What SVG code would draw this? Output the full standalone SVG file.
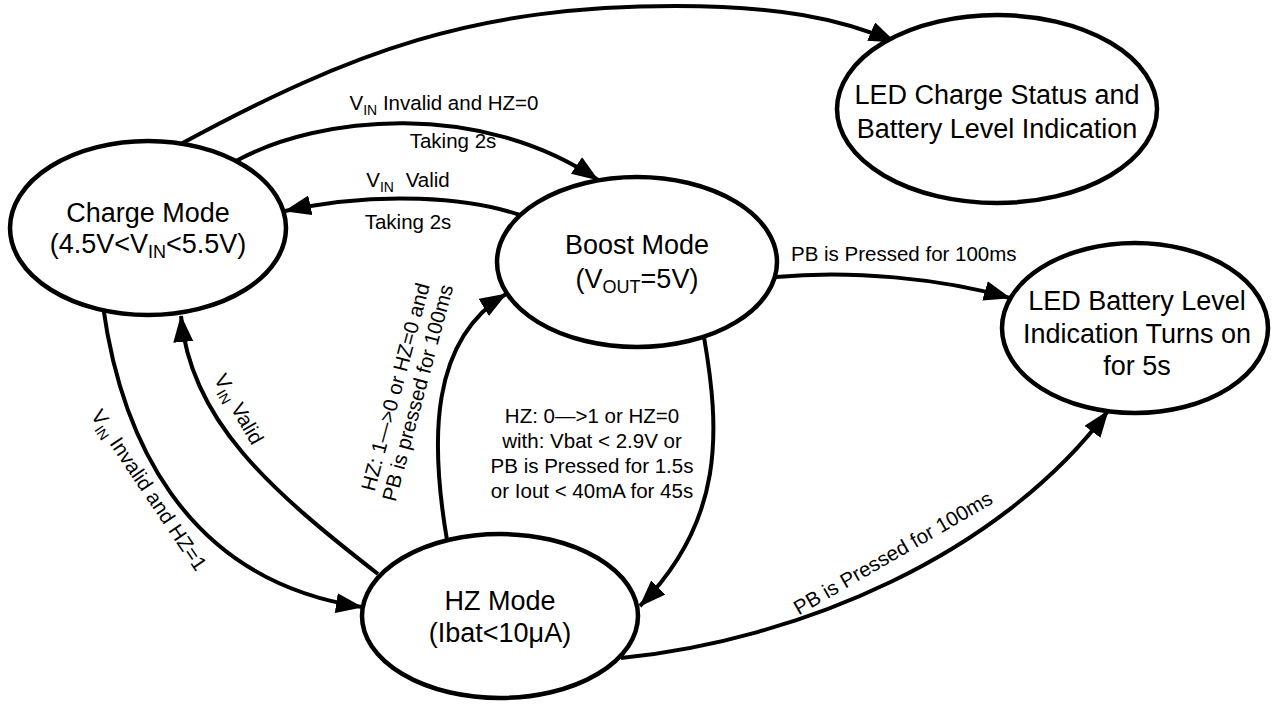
<svg xmlns="http://www.w3.org/2000/svg" width="1279" height="704" viewBox="0 0 1279 704">
<style>
.node ellipse { fill: #fff; stroke: #000; stroke-width: 4.5; }
.node text { font-family: "Liberation Sans", Arial, sans-serif; font-size: 27px; text-anchor: middle; fill: #000; }
.edge { fill: none; stroke: #000; stroke-width: 4; marker-end: url(#arr); }
.lbl { font-family: "Liberation Sans", Arial, sans-serif; font-size: 20.5px; fill: #000; }
.mid { text-anchor: middle; }
.sub { font-size: 14px; }
.nsub { font-size: 18px; }
</style>
<defs>
<marker id="arr" markerUnits="userSpaceOnUse" markerWidth="28" markerHeight="22" refX="26" refY="10" orient="auto">
<path d="M0,0 L27,10 L0,20 z" fill="#000"/>
</marker>
</defs>
<rect width="1279" height="704" fill="#fff"/>

<g id="connectors">
<path class="edge" d="M179,145 C354,50 476,6 676,6 C776,6 840,18 895,42"/>
<path class="edge" d="M236,161 C320,115 480,100 598,180"/>
<path class="edge" d="M520,215 C470,198 380,190 285,211"/>
<path class="edge" d="M776,277 C850,270 940,278 1010,298"/>
<path class="edge" d="M103,306 C120,430 180,580 362,607"/>
<path class="edge" d="M378,574 C270,490 190,420 181,316"/>
<path class="edge" d="M447,540 C430,440 430,340 506,294"/>
<path class="edge" d="M704,337 C720,430 725,520 640,606"/>
<path class="edge" d="M621,658 C800,640 1000,555 1108,411"/>
</g>

<g id="edge-labels">
<text class="lbl mid" x="444" y="110">V<tspan class="sub" dy="5">IN</tspan><tspan dy="-5"> Invalid and HZ=0</tspan></text>
<text class="lbl mid" x="453" y="148">Taking 2s</text>
<text class="lbl mid" x="408" y="187">V<tspan class="sub" dy="5">IN</tspan><tspan dy="-5" dx="6"> Valid</tspan></text>
<text class="lbl mid" x="408" y="229">Taking 2s</text>
<text class="lbl" x="791" y="261">PB is Pressed for 100ms</text>
<text class="lbl mid" x="592" y="423">HZ: 0—&gt;1 or HZ=0</text>
<text class="lbl mid" x="592" y="448">with: Vbat &lt; 2.9V or</text>
<text class="lbl mid" x="592" y="473">PB is Pressed for 1.5s</text>
<text class="lbl mid" x="592" y="498">or Iout &lt; 40mA for 45s</text>
<g transform="translate(149,490) rotate(56)">
<text class="lbl mid" x="0" y="7">V<tspan class="sub" dy="5">IN</tspan><tspan dy="-5"> Invalid and HZ=1</tspan></text>
</g>
<g transform="translate(239,409) rotate(60)">
<text class="lbl mid" x="0" y="7">V<tspan class="sub" dy="5">IN</tspan><tspan dy="-5"> Valid</tspan></text>
</g>
<g transform="translate(407,390) rotate(-75)">
<text class="lbl mid" x="0" y="-5">HZ: 1—&gt;0 or HZ=0 and</text>
<text class="lbl mid" x="0" y="18">PB is pressed for 100ms</text>
</g>
<g transform="translate(893,553) rotate(-30)">
<text class="lbl mid" x="0" y="7">PB is Pressed for 100ms</text>
</g>
</g>

<g id="node-charge" class="node">
<ellipse cx="148" cy="228" rx="138" ry="87"/>
<text x="148" y="222">Charge Mode</text>
<text x="148" y="253">(4.5V&lt;V<tspan class="nsub" dy="5">IN</tspan><tspan dy="-5">&lt;5.5V)</tspan></text>
</g>
<g id="node-boost" class="node">
<ellipse cx="637" cy="262" rx="140" ry="85"/>
<text x="637" y="254">Boost Mode</text>
<text x="637" y="288">(V<tspan class="nsub" dy="5">OUT</tspan><tspan dy="-5">=5V)</tspan></text>
</g>
<g id="node-hz" class="node">
<ellipse cx="500" cy="616" rx="138" ry="82"/>
<text x="500" y="610">HZ Mode</text>
<text x="500" y="642">(Ibat&lt;10μA)</text>
</g>
<g id="node-led-charge" class="node">
<ellipse cx="997" cy="109" rx="160" ry="94"/>
<text x="997" y="104">LED Charge Status and</text>
<text x="997" y="138">Battery Level Indication</text>
</g>
<g id="node-led-battery" class="node">
<ellipse cx="1135" cy="328" rx="133" ry="85"/>
<text x="1137" y="310">LED Battery Level</text>
<text x="1137" y="343">Indication Turns on</text>
<text x="1137" y="375">for 5s</text>
</g>
</svg>
